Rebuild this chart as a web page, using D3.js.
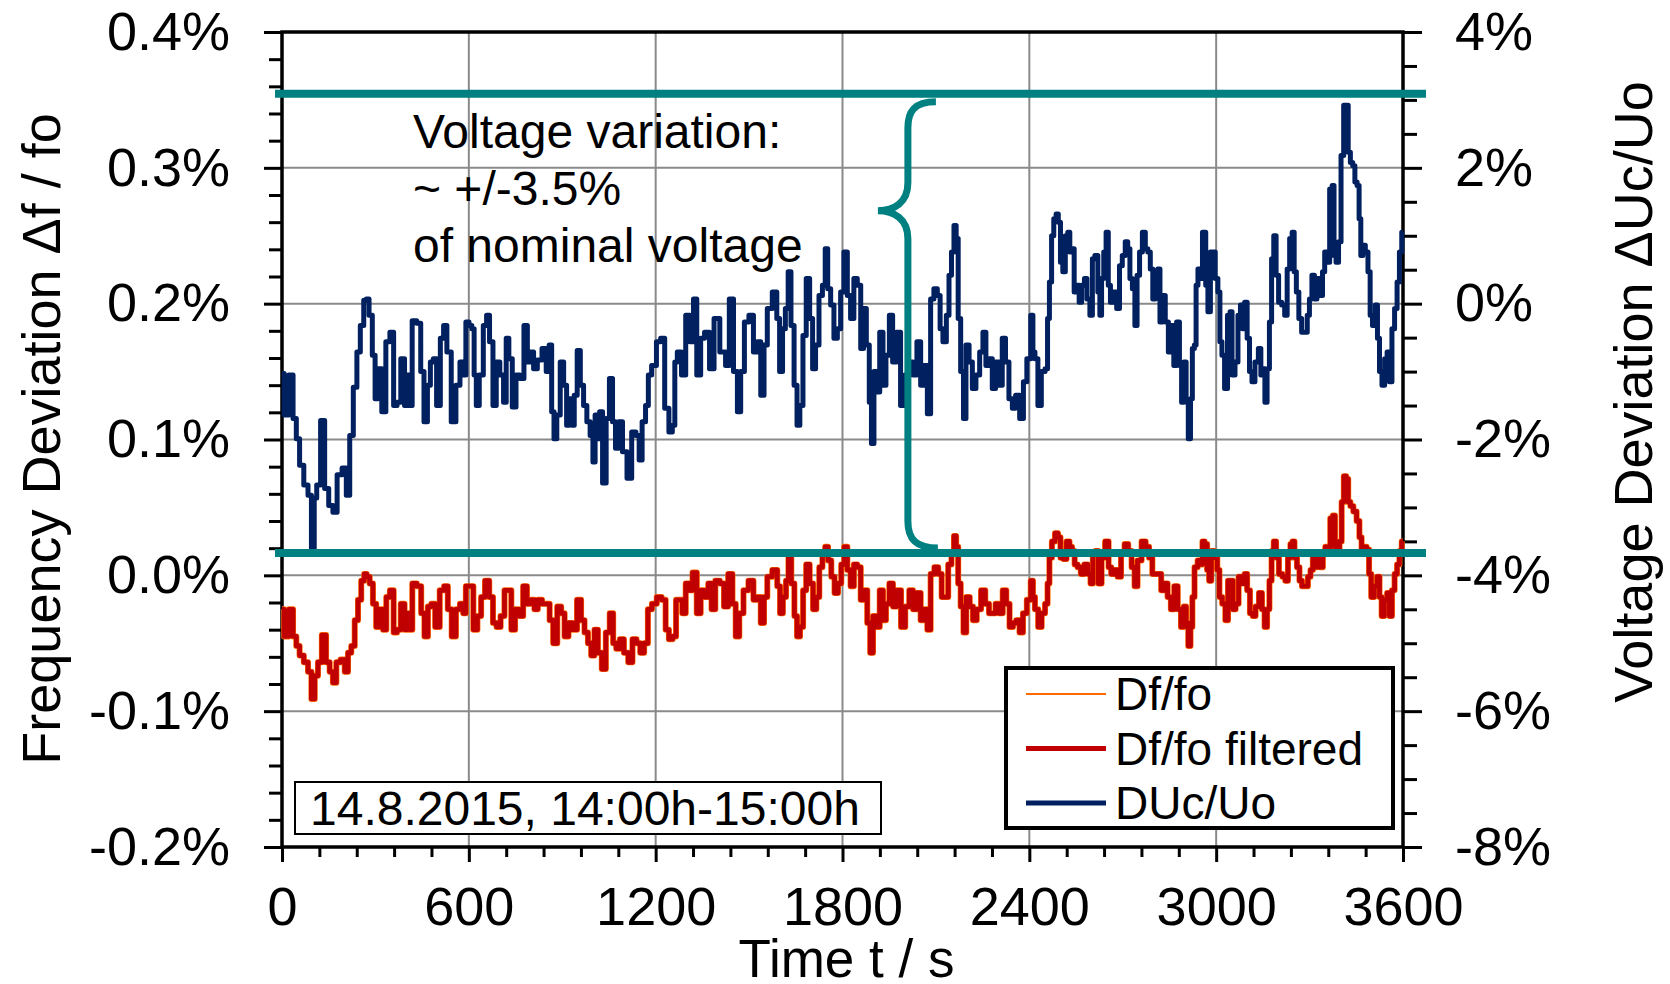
<!DOCTYPE html>
<html><head><meta charset="utf-8">
<script src="https://cdn.jsdelivr.net/npm/d3@7"></script>
<style>
html,body{margin:0;padding:0;background:#fff;}
svg{display:block;font-family:"Liberation Sans",Arial,sans-serif;font-variant-ligatures:none;}
</style></head><body>
<svg id="chart" width="1670" height="984"></svg>
<script>
// ---------- data ----------
// Voltage deviation DUc/Uo in % (right axis)
const timeV = [0,14,30,41,51,62,78,89,100,107,116,132,142,158,169,185,201,212,223,235,246,257,268,274,285,295,303,314,327,340,353,364,375,388,399,407,413,423,442,449,463,471,482,490,503,514,524,535,552,565,578,586,595,606,613,621,627,640,653,661,672,683,693,706,717,723,734,745,758,770,784,792,803,813,827,843,854,862,870,877,888,899,910,918,927,934,943,953,963,974,984,995,1002,1009,1017,1023,1036,1046,1057,1066,1076,1087,1100,1116,1130,1143,1151,1162,1173,1180,1194,1211,1221,1237,1248,1259,1264,1275,1291,1302,1318,1325,1339,1350,1364,1382,1393,1419,1430,1443,1457,1468,1478,1492,1507,1521,1532,1543,1553,1564,1585,1593,1603,1612,1621,1630,1639,1650,1658,1668,1678,1689,1700,1708,1719,1730,1741,1748,1757,1767,1778,1789,1799,1810,1821,1831,1842,1853,1864,1871,1882,1890,1896,1906,1914,1925,1935,1944,1957,1965,1981,1992,2008,2021,2032,2046,2056,2067,2078,2088,2099,2110,2117,2128,2139,2145,2155,2161,2169,2174,2185,2192,2201,2212,2222,2235,2246,2256,2265,2276,2286,2297,2308,2318,2329,2340,2351,2361,2377,2385,2399,2410,2413,2423,2432,2445,2456,2461,2468,2475,2482,2490,2496,2504,2511,2520,2527,2533,2541,2547,2557,2563,2573,2581,2589,2600,2605,2616,2624,2629,2635,2643,2650,2657,2664,2675,2686,2693,2704,2712,2720,2726,2736,2742,2750,2758,2768,2777,2784,2793,2800,2809,2816,2823,2832,2841,2852,2860,2868,2878,2886,2892,2900,2907,2914,2921,2926,2934,2937,2946,2953,2959,2964,2969,2978,2985,2993,3001,3010,3014,3023,3031,3042,3047,3055,3066,3074,3082,3087,3096,3103,3111,3119,3130,3141,3146,3153,3160,3167,3175,3181,3189,3196,3205,3216,3224,3232,3240,3248,3253,3262,3269,3280,3289,3296,3303,3312,3319,3328,3339,3344,3353,3360,3369,3376,3381,3389,3397,3405,3414,3421,3427,3435,3442,3449,3456,3462,3467,3475,3483,3492,3497,3507,3515,3521,3528,3537,3545,3553,3560,3569,3577,3585,3592,3600];
const duUo = [-1.03,-1.64,-1.05,-1.69,-1.99,-2.38,-2.67,-2.82,-3.6,-2.86,-2.67,-1.72,-2.72,-2.97,-3.07,-2.52,-2.42,-2.82,-1.94,-1.23,-0.71,-0.32,0.05,0.07,-0.17,-0.76,-1.40,-0.96,-1.59,-0.56,-0.42,-1.50,-1.45,-0.81,-1.50,-1.05,-1.50,-0.25,-0.29,-1.00,-1.74,-1.20,-0.86,-0.81,-1.50,-0.51,-0.32,-0.71,-1.74,-1.20,-0.86,-1.05,-0.27,-0.32,-0.37,-1.05,-1.50,-1.05,-0.32,-0.17,-0.56,-1.50,-0.86,-1.05,-1.45,-0.51,-0.81,-1.52,-1.05,-1.10,-0.32,-0.86,-0.71,-0.96,-0.83,-0.66,-1.00,-0.61,-1.59,-1.99,-1.64,-0.86,-1.20,-1.79,-1.40,-1.79,-1.35,-0.69,-1.20,-1.50,-1.74,-1.94,-2.33,-1.64,-1.99,-1.59,-2.64,-1.69,-1.10,-1.74,-2.13,-1.74,-2.18,-2.57,-1.89,-1.94,-2.30,-1.74,-1.50,-1.05,-0.91,-0.56,-0.51,-1.54,-1.89,-1.79,-0.86,-0.71,-1.05,-0.17,-0.56,0.07,-1.05,-0.51,-0.42,-0.96,-0.22,-0.71,-0.91,0.07,-1.00,-1.59,-1.00,-0.27,-0.17,-0.71,-0.56,-1.35,-0.61,-0.07,0.17,-0.22,-1.00,-0.37,-0.07,0.47,-0.32,-1.20,-1.79,-1.50,-0.47,0.37,-0.22,-0.96,-0.61,0.12,0.27,0.81,0.22,-0.02,-0.51,-0.37,0.17,0.76,0.12,-0.22,0.37,0.27,-0.66,-0.07,-0.61,-1.45,-2.06,-1.00,-1.30,-0.42,-1.20,-0.76,-0.17,-0.86,-0.42,-1.50,-1.05,-0.86,-1.05,-0.56,-1.20,-0.91,-1.62,0.07,0.22,0.12,-0.37,-0.56,-0.17,0.42,0.76,1.15,0.96,-0.22,-1.00,-1.69,-0.61,-0.86,-1.25,-1.05,-0.71,-0.42,-0.91,-0.81,-1.25,-0.86,-1.20,-0.51,-0.86,-1.40,-1.54,-1.35,-1.69,-1.15,-0.81,-0.17,-0.71,-0.81,-1.50,-1.00,-0.96,-0.22,0.32,1.00,1.25,1.32,1.20,0.61,0.47,1.00,1.05,0.76,0.81,0.17,0.27,0.02,0.27,0.37,0.07,-0.17,0.66,0.71,0.17,-0.17,0.37,0.76,1.05,0.27,0.02,0.17,-0.07,0.56,0.71,0.91,0.81,0.37,0.22,-0.32,0.42,0.76,1.05,0.81,0.76,0.51,0.07,0.12,0.51,-0.27,0.12,-0.27,-0.71,-0.32,-0.91,-0.27,-0.91,-1.45,-0.86,-1.45,-1.99,-1.40,-0.66,-0.61,0.27,0.51,0.37,1.05,1.05,0.27,-0.12,0.76,0.76,0.37,0.17,-0.56,-0.76,-1.25,-0.17,-0.12,-1.05,-0.86,-0.17,-0.02,-0.37,0.02,-0.51,-1.00,-1.15,-0.86,-0.66,-1.05,-0.96,-1.45,-0.96,-0.27,0.66,1.00,0.42,0.02,-0.02,-0.17,0.51,0.96,1.05,0.47,0.17,-0.22,-0.42,-0.42,-0.17,0.07,0.42,0.07,0.37,0.12,0.47,0.76,0.61,1.69,1.74,0.71,0.61,0.91,2.18,2.92,2.92,2.23,2.08,2.03,1.79,1.74,1.25,0.71,0.86,0.76,0.47,-0.17,-0.32,-0.02,-0.51,-1.00,-1.20,-0.81,-0.71,-1.15,-0.37,-0.07,0.32,0.76,1.05];

// Frequency deviation Df/fo (filtered) in % (left axis)
const timeF = [0,14,30,41,51,62,78,89,100,110,121,135,148,158,169,180,196,207,217,228,239,249,260,268,276,287,297,308,319,330,340,353,364,375,388,399,407,413,424,442,452,463,474,485,499,514,527,538,552,565,578,586,595,608,621,634,645,659,672,683,695,709,720,731,742,755,768,781,792,805,816,827,843,854,865,877,891,902,913,927,940,955,966,977,988,998,1009,1020,1034,1046,1059,1068,1079,1091,1105,1119,1132,1145,1156,1170,1180,1196,1211,1227,1237,1248,1261,1270,1280,1291,1302,1312,1325,1339,1350,1364,1374,1385,1398,1414,1425,1441,1452,1462,1475,1489,1507,1521,1532,1543,1553,1564,1585,1596,1603,1614,1623,1630,1641,1650,1658,1669,1678,1689,1700,1711,1721,1730,1741,1748,1759,1769,1780,1791,1801,1810,1821,1831,1842,1853,1864,1874,1885,1893,1903,1914,1925,1935,1944,1957,1967,1981,1995,2008,2021,2032,2046,2056,2067,2078,2088,2102,2113,2124,2134,2145,2155,2161,2169,2174,2185,2192,2203,2214,2224,2238,2252,2265,2276,2286,2297,2308,2321,2331,2342,2353,2363,2374,2385,2399,2410,2413,2423,2434,2445,2456,2461,2468,2477,2488,2496,2504,2514,2525,2533,2541,2550,2560,2571,2582,2593,2600,2608,2616,2627,2637,2650,2659,2667,2678,2689,2700,2712,2723,2734,2742,2753,2768,2779,2790,2800,2810,2819,2828,2839,2849,2860,2871,2882,2892,2900,2907,2914,2921,2926,2935,2946,2953,2959,2967,2975,2980,2989,3000,3007,3014,3025,3034,3042,3050,3057,3068,3076,3087,3096,3103,3114,3121,3132,3143,3151,3160,3167,3175,3181,3189,3196,3207,3218,3226,3235,3242,3248,3255,3264,3271,3280,3290,3299,3307,3314,3320,3329,3339,3346,3355,3362,3371,3378,3385,3392,3400,3406,3414,3421,3427,3435,3446,3456,3464,3470,3478,3488,3494,3502,3513,3521,3528,3535,3545,3553,3560,3569,3577,3585,3592,3600];
const dfFiltered = [-0.025,-0.045,-0.025,-0.045,-0.052,-0.059,-0.064,-0.071,-0.091,-0.074,-0.064,-0.044,-0.064,-0.071,-0.079,-0.064,-0.062,-0.071,-0.057,-0.052,-0.033,-0.018,-0.004,0.001,-0.001,-0.006,-0.021,-0.038,-0.025,-0.040,-0.016,-0.011,-0.042,-0.040,-0.021,-0.040,-0.028,-0.040,-0.006,-0.008,-0.028,-0.045,-0.023,-0.021,-0.038,-0.011,-0.008,-0.025,-0.045,-0.025,-0.021,-0.028,-0.008,-0.008,-0.040,-0.030,-0.016,-0.004,-0.016,-0.035,-0.038,-0.030,-0.011,-0.011,-0.040,-0.025,-0.030,-0.008,-0.021,-0.018,-0.025,-0.018,-0.021,-0.021,-0.033,-0.050,-0.023,-0.028,-0.045,-0.035,-0.040,-0.018,-0.033,-0.042,-0.050,-0.059,-0.040,-0.057,-0.069,-0.042,-0.028,-0.050,-0.054,-0.047,-0.057,-0.064,-0.047,-0.050,-0.057,-0.050,-0.025,-0.021,-0.016,-0.018,-0.040,-0.047,-0.045,-0.018,-0.018,-0.028,-0.006,-0.011,0.002,-0.028,-0.011,-0.016,-0.006,-0.025,-0.004,-0.006,-0.023,0.001,-0.021,-0.045,-0.028,-0.011,-0.004,-0.018,-0.016,-0.035,-0.016,-0.001,0.004,-0.008,-0.028,-0.016,-0.004,0.013,-0.006,-0.030,-0.045,-0.038,-0.011,0.008,-0.006,-0.025,-0.016,0.006,0.016,0.021,0.011,-0.001,-0.013,-0.006,0.008,0.021,0.004,-0.008,0.008,0.006,-0.018,-0.011,-0.035,-0.057,-0.030,-0.038,-0.011,-0.033,-0.021,-0.006,-0.023,-0.011,-0.038,-0.023,-0.011,-0.025,-0.013,-0.033,-0.025,-0.040,0.001,0.006,0.001,-0.016,-0.016,0.008,0.016,0.029,0.021,-0.006,-0.023,-0.042,-0.016,-0.023,-0.033,-0.025,-0.011,-0.021,-0.028,-0.028,-0.021,-0.028,-0.011,-0.021,-0.038,-0.035,-0.033,-0.042,-0.028,-0.018,-0.004,-0.016,-0.025,-0.038,-0.028,-0.021,-0.006,0.013,0.025,0.031,0.028,0.013,0.012,0.025,0.021,0.018,0.008,0.006,0.001,0.008,0.001,-0.006,0.016,0.018,-0.006,0.013,0.025,0.006,0.001,0.004,-0.001,0.016,0.023,0.018,0.006,-0.008,0.011,0.025,0.021,0.013,0.001,0.001,0.001,-0.011,-0.006,-0.016,-0.025,-0.008,-0.025,-0.038,-0.023,-0.035,-0.052,-0.038,-0.016,0.006,0.011,0.008,0.025,0.023,0.004,-0.004,0.018,0.013,0.004,-0.016,-0.021,-0.033,-0.004,-0.004,-0.025,-0.021,-0.001,-0.006,0.001,-0.011,-0.028,-0.030,-0.023,-0.013,-0.025,-0.038,-0.025,-0.004,0.018,0.025,0.013,0.001,-0.001,-0.004,0.013,0.023,0.025,0.013,0.006,-0.004,-0.008,-0.008,-0.001,0.004,0.013,0.006,0.013,0.006,0.016,0.021,0.018,0.042,0.044,0.021,0.018,0.025,0.054,0.073,0.071,0.054,0.051,0.047,0.040,0.028,0.016,0.021,0.019,0.001,-0.016,-0.008,-0.001,-0.016,-0.030,-0.018,-0.013,-0.030,-0.011,0.001,0.008,0.018,0.025];

// axes, ticks and labels
const xTicks = [0,600,1200,1800,2400,3000,3600];
const leftTicks = [-0.2,-0.1,0.0,0.1,0.2,0.3,0.4];
const rightTicks = [-8,-6,-4,-2,0,2,4];
const xTitle = "Time t / s";
const leftTitle = "Frequency Deviation \u0394f / fo";
const rightTitle = "Voltage Deviation \u0394Uc/Uo";

// annotation (right-axis levels of the two teal lines, brace position in s)
const bandLevels = [3.09, -3.67];
const braceTime = 2010;
const annotationLines = ["Voltage variation:", "~ +/-3.5%", "of nominal voltage"];
const legendLabels = ["Df/fo", "Df/fo filtered", "DUc/Uo"];
const legendColors = ["#FF6A00", "#C00000", "#002060"];
const dateLabel = "14.8.2015, 14:00h-15:00h";

// ---------- drawing ----------
const svg = d3.select("#chart");
const L = 282, R = 1403, T = 32, B = 847;
const x = d3.scaleLinear().domain([0, 3600]).range([L, R]);
const yL = d3.scaleLinear().domain([-0.2, 0.4]).range([B, T]);
const yR = d3.scaleLinear().domain([-8, 4]).range([B, T]);

svg.append("rect").attr("width", 1670).attr("height", 984).attr("fill", "#fff");

// grid
const grid = svg.append("g").attr("stroke", "#8a8a8a").attr("stroke-width", 2);
xTicks.forEach(t => grid.append("line").attr("x1", x(t)).attr("x2", x(t)).attr("y1", T).attr("y2", B));
leftTicks.forEach(v => grid.append("line").attr("x1", L).attr("x2", R).attr("y1", yL(v)).attr("y2", yL(v)));

// axes
const FS = 54;
function styleAxis(g) {
  g.select(".domain").remove();
  g.selectAll(".tick line").attr("stroke", "#000").attr("stroke-width", 3);
  g.selectAll(".tick text").attr("fill", "#000").attr("font-size", FS)
    .attr("font-family", "'Liberation Sans',Arial,sans-serif");
}
const leftMinor = d3.range(-0.2, 0.4001, 0.02).filter(v => Math.abs(Math.round(v * 10) - v * 10) > 1e-6);
const rightMinor = d3.range(-8, 4.001, 0.5).filter(v => Math.abs(v % 2) > 1e-6);
const xMinor = d3.range(0, 3601, 120).filter(v => v % 600 !== 0);

svg.append("g").attr("transform", `translate(${L},0)`)
  .call(d3.axisLeft(yL).tickValues(leftMinor).tickSize(13).tickFormat(""))
  .call(styleAxis);
svg.append("g").attr("transform", `translate(${L},0)`)
  .call(d3.axisLeft(yL).tickValues(leftTicks).tickSize(18).tickPadding(34)
    .tickFormat(d => d.toFixed(1) + "%"))
  .call(styleAxis);

svg.append("g").attr("transform", `translate(${R},0)`)
  .call(d3.axisRight(yR).tickValues(rightMinor).tickSize(14).tickFormat(""))
  .call(styleAxis);
svg.append("g").attr("transform", `translate(${R},0)`)
  .call(d3.axisRight(yR).tickValues(rightTicks).tickSize(19).tickPadding(33)
    .tickFormat(d => d + "%"))
  .call(styleAxis);

svg.append("g").attr("transform", `translate(0,${B})`)
  .call(d3.axisBottom(x).tickValues(xMinor).tickSize(10).tickFormat(""))
  .call(styleAxis);
svg.append("g").attr("transform", `translate(0,${B})`)
  .call(d3.axisBottom(x).tickValues(xTicks).tickSize(15).tickPadding(25).tickFormat(d => String(d)))
  .call(styleAxis);

// plot border
svg.append("rect").attr("x", L).attr("y", T).attr("width", R - L).attr("height", B - T)
  .attr("fill", "none").attr("stroke", "#000").attr("stroke-width", 3.5);

// titles
svg.append("text").attr("x", (L + R) / 2 + 4).attr("y", 977).attr("text-anchor", "middle")
  .attr("font-size", 53).text(xTitle);
svg.append("text").attr("transform", "translate(60,439) rotate(-90)").attr("text-anchor", "middle")
  .attr("font-size", 54).text(leftTitle);
svg.append("text").attr("transform", "translate(1652,392) rotate(-90)").attr("text-anchor", "middle")
  .attr("font-size", 54).text(rightTitle);

// series
const lineF = d3.line().curve(d3.curveStep).x((d, i) => x(timeF[i])).y(d => yL(d));
const lineV = d3.line().curve(d3.curveStep).x((d, i) => x(timeV[i])).y(d => yR(d));
svg.append("path").datum(dfFiltered).attr("d", lineF).attr("fill", "none")
  .attr("stroke", legendColors[0]).attr("stroke-width", 6).attr("stroke-linejoin", "round");
svg.append("path").datum(dfFiltered).attr("d", lineF).attr("fill", "none")
  .attr("stroke", legendColors[1]).attr("stroke-width", 4.8).attr("stroke-linejoin", "round");
svg.append("path").datum(duUo).attr("d", lineV).attr("fill", "none")
  .attr("stroke", legendColors[2]).attr("stroke-width", 5).attr("stroke-linejoin", "round");

// teal band lines
const teal = "#008080";
bandLevels.forEach(v => svg.append("line").attr("x1", L - 7).attr("x2", R + 23)
  .attr("y1", yR(v)).attr("y2", yR(v)).attr("stroke", teal).attr("stroke-width", 8));

// brace
const bx = x(braceTime), bTop = yR(bandLevels[0]), bBot = yR(bandLevels[1]);
const cy = bTop + 117;
const brace = `M${bx + 28},${bTop + 8} C${bx + 6},${bTop + 8} ${bx},${bTop + 18} ${bx},${bTop + 34}
 L${bx},${cy - 28} C${bx},${cy - 8} ${bx - 14},${cy} ${bx - 30},${cy}
 C${bx - 14},${cy} ${bx},${cy + 8} ${bx},${cy + 28}
 L${bx},${bBot - 32} C${bx},${bBot - 14} ${bx + 8},${bBot - 5} ${bx + 30},${bBot - 5}`;
svg.append("path").attr("d", brace).attr("fill", "none").attr("stroke", teal).attr("stroke-width", 7);

// annotation text
annotationLines.forEach((s, i) => svg.append("text").attr("x", 413).attr("y", 148 + i * 57)
  .attr("font-size", 48).text(s));

// date box
svg.append("rect").attr("x", 295).attr("y", 782).attr("width", 586).attr("height", 52)
  .attr("fill", "#fff").attr("stroke", "#000").attr("stroke-width", 2);
svg.append("text").attr("x", 310).attr("y", 825).attr("font-size", 48).text(dateLabel);

// legend
svg.append("rect").attr("x", 1006).attr("y", 668).attr("width", 387).attr("height", 160)
  .attr("fill", "#fff").attr("stroke", "#000").attr("stroke-width", 4);
const legW = [2, 5, 5];
legendLabels.forEach((s, i) => {
  const ly = 694 + i * 54.5;
  svg.append("line").attr("x1", 1026).attr("x2", 1106).attr("y1", ly).attr("y2", ly)
    .attr("stroke", legendColors[i]).attr("stroke-width", legW[i]);
  svg.append("text").attr("x", 1115).attr("y", ly + 16).attr("font-size", 46).text(s);
});
</script>
</body></html>
